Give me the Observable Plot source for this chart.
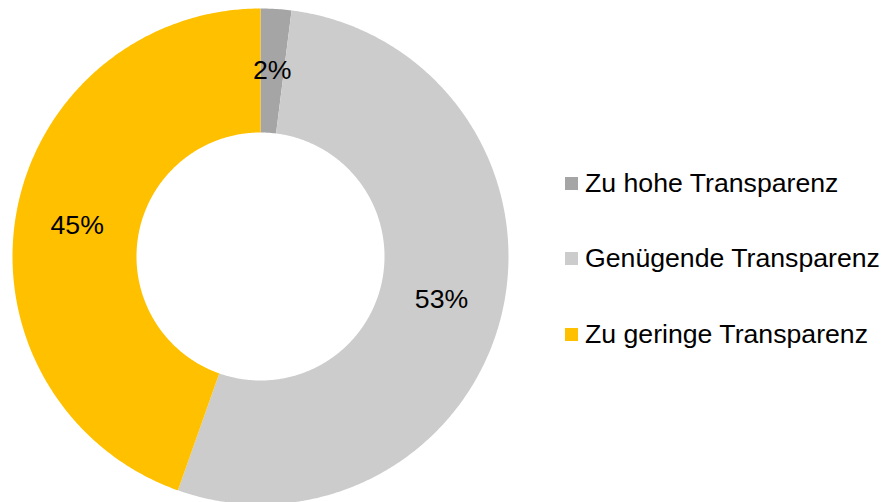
<!DOCTYPE html>
<html>
<head>
<meta charset="utf-8">
<script src="https://cdn.jsdelivr.net/npm/d3@7"></script>
<script src="https://cdn.jsdelivr.net/npm/@observablehq/plot@0.6"></script>
<style>
  html, body { margin: 0; padding: 0; background: #fff; }
  #wrap { position: relative; width: 883px; height: 502px; overflow: hidden; font-family: "Liberation Sans", Arial, sans-serif; }
  #chart { position: absolute; left: 0; top: 0; }
  #legend { position: absolute; left: 565px; top: 165px; }
  .item { display: flex; align-items: center; height: 36px; margin-bottom: 39.5px; font-size: 26.67px; color: #000; white-space: nowrap; }
  .sw { width: 13px; height: 13px; margin-right: 7px; flex: none; }
</style>
</head>
<body>
<div id="wrap"><div id="chart"></div><div id="legend"></div></div>
<script>
const categories = ["Zu hohe Transparenz", "Genügende Transparenz", "Zu geringe Transparenz"];
const values = [2.0, 53.4, 44.6];
const labels = ["2%", "53%", "45%"];
const colors = ["#A5A5A5", "#CCCCCC", "#FFC000"];

const innerR = 0.5, outerR = 1;
const table = categories.map((c, i) => ({cat: c, value: values[i], label: labels[i]}));
const arcs = d3.pie().sort(null).value(d => d.value)(table);

const pts = [];
for (const a of arcs) {
  const n = Math.max(4, Math.ceil((a.endAngle - a.startAngle) / (Math.PI / 360)));
  for (let k = 0; k <= n; k++) {
    const t = a.startAngle + (a.endAngle - a.startAngle) * k / n;
    pts.push({cat: a.data.cat, x: outerR * Math.sin(t), y: outerR * Math.cos(t)});
  }
  for (let k = n; k >= 0; k--) {
    const t = a.startAngle + (a.endAngle - a.startAngle) * k / n;
    pts.push({cat: a.data.cat, x: innerR * Math.sin(t), y: innerR * Math.cos(t)});
  }
}
const mids = arcs.map(a => {
  const t = (a.startAngle + a.endAngle) / 2, r = (innerR + outerR) / 2;
  return {label: a.data.label, x: r * Math.sin(t), y: r * Math.cos(t)};
});

const plot = Plot.plot({
  width: 520,
  height: 502,
  x: {domain: [-1, 1], range: [12, 508], axis: null},
  y: {domain: [-1, 1], range: [504, 8], axis: null},
  color: {domain: categories, range: colors},
  style: {fontFamily: '"Liberation Sans", Arial, sans-serif', background: "transparent"},
  marks: [
    Plot.line(pts, {x: "x", y: "y", z: "cat", fill: "cat", stroke: "none", curve: "linear-closed"}),
    Plot.text(mids, {x: "x", y: "y", text: "label", fontSize: 26.67, fill: "#000"})
  ]
});
document.getElementById("chart").appendChild(plot);

const legend = document.getElementById("legend");
categories.forEach((c, i) => {
  const it = document.createElement("div");
  it.className = "item";
  const sw = document.createElement("span");
  sw.className = "sw";
  sw.style.background = colors[i];
  const tx = document.createElement("span");
  tx.textContent = c;
  it.appendChild(sw); it.appendChild(tx);
  legend.appendChild(it);
});
</script>
</body>
</html>
